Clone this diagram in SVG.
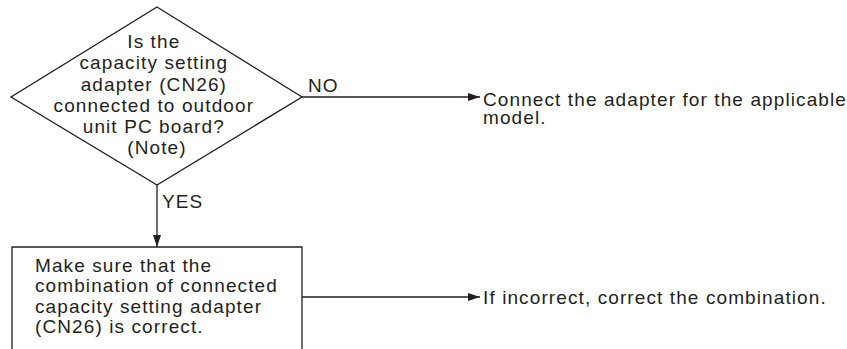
<svg xmlns="http://www.w3.org/2000/svg" width="847" height="349" viewBox="0 0 847 349">
<defs>
<marker id="arr" markerWidth="12" markerHeight="8" refX="12" refY="4" orient="auto" markerUnits="userSpaceOnUse">
<path d="M0,0 L12,4 L0,8 Z" fill="#231f20"/>
</marker>
<style>
.t{font-family:"Liberation Sans",Arial,sans-serif;font-size:19px;letter-spacing:1.1px;fill:#231f20}
.s{fill:#fff;stroke:#231f20;stroke-width:1.3}
.c{stroke:#231f20;stroke-width:1.3;fill:none}
</style>
</defs>
<rect width="847" height="349" fill="#fff"/>
<g id="decision">
<polygon class="s" points="157,7 302,97 157,185 11,97"/>
<text class="t" text-anchor="middle">
<tspan x="157" y="48">Is the</tspan>
<tspan x="157" y="69">capacity setting</tspan>
<tspan x="157" y="91">adapter (CN26)</tspan>
<tspan x="157" y="112">connected to outdoor</tspan>
<tspan x="157" y="133">unit PC board?</tspan>
<tspan x="157" y="154">(Note)</tspan>
</text>
</g>
<g id="check">
<path class="s" d="M12,349 L12,247 L302,247 L302,349"/>
<text class="t">
<tspan x="35" y="272">Make sure that the</tspan>
<tspan x="35" y="292">combination of connected</tspan>
<tspan x="35" y="313">capacity setting adapter</tspan>
<tspan x="35" y="333">(CN26) is correct.</tspan>
</text>
</g>
<g id="connect-adapter">
<text class="t">
<tspan x="483" y="106">Connect the adapter for the applicable</tspan>
<tspan x="483" y="124">model.</tspan>
</text>
</g>
<g id="correct-combination">
<text class="t"><tspan x="483" y="304">If incorrect, correct the combination.</tspan></text>
</g>
<g id="connectors">
<line class="c" x1="302" y1="97" x2="480" y2="97" marker-end="url(#arr)"/>
<line class="c" x1="157" y1="185" x2="157" y2="247" marker-end="url(#arr)"/>
<line class="c" x1="302" y1="297" x2="480" y2="297" marker-end="url(#arr)"/>
<text class="t" x="308" y="92">NO</text>
<text class="t" x="162" y="208">YES</text>
</g>
</svg>
